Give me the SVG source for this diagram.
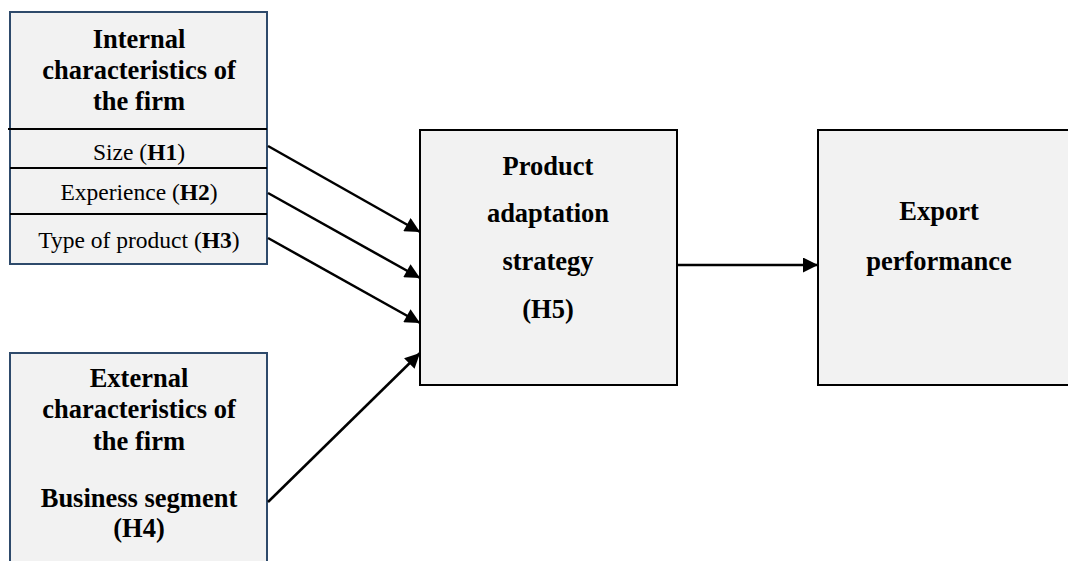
<svg xmlns="http://www.w3.org/2000/svg" width="1068" height="561" viewBox="0 0 1068 561">
  <style>
    .box { fill: #f2f2f2; stroke: #000; stroke-width: 2; }
    .navy { fill: #f2f2f2; stroke: #2e4a6b; stroke-width: 2; }
    .div { stroke: #000; stroke-width: 2; }
    .t { font-family: "Liberation Serif", "Times New Roman", serif; fill: #000; text-anchor: middle; }
    .b { font-weight: bold; }
    .hd { font-size: 26.5px; font-weight: bold; }
    .row { font-size: 23.5px; }
    .edge { stroke: #000; stroke-width: 2.5; fill: none; marker-end: url(#arrow); }
  </style>
  <defs>
    <marker id="arrow" viewBox="0 0 10 10" refX="10" refY="5" markerWidth="7" markerHeight="6" markerUnits="strokeWidth" orient="auto">
      <path d="M0,0 L10,5 L0,10 Z" fill="#000"/>
    </marker>
  </defs>

  <rect width="1068" height="561" fill="#fff"/>

  <!-- Internal characteristics with three hypothesis rows -->
  <g id="internal">
    <rect class="navy" x="10" y="12" width="257" height="252"/>
    <line class="div" x1="8" y1="129" x2="267" y2="129"/>
    <line class="div" x1="10" y1="168" x2="267" y2="168"/>
    <line class="div" x1="10" y1="214" x2="267" y2="214"/>
    <text class="t hd" x="139" y="48">Internal</text>
    <text class="t hd" x="139" y="79">characteristics of</text>
    <text class="t hd" x="139" y="110">the firm</text>
    <text class="t row" x="139" y="160">Size (<tspan class="b">H1</tspan>)</text>
    <text class="t row" x="139" y="200">Experience (<tspan class="b">H2</tspan>)</text>
    <text class="t row" x="139" y="248">Type of product (<tspan class="b">H3</tspan>)</text>
  </g>

  <!-- External characteristics, runs past the bottom edge -->
  <g id="external">
    <rect class="navy" x="10" y="353" width="257" height="220"/>
    <text class="t hd" x="139" y="387">External</text>
    <text class="t hd" x="139" y="418">characteristics of</text>
    <text class="t hd" x="139" y="450">the firm</text>
    <text class="t hd" x="139" y="507">Business segment</text>
    <text class="t hd" x="139" y="537">(H4)</text>
  </g>

  <g id="product">
    <rect class="box" x="420" y="130" width="257" height="255"/>
    <text class="t hd" x="548" y="175">Product</text>
    <text class="t hd" x="548" y="222">adaptation</text>
    <text class="t hd" x="548" y="270">strategy</text>
    <text class="t hd" x="548" y="318">(H5)</text>
  </g>

  <!-- Export performance, runs past the right edge -->
  <g id="export">
    <rect class="box" x="818" y="130" width="260" height="255"/>
    <text class="t hd" x="939" y="220">Export</text>
    <text class="t hd" x="939" y="270">performance</text>
  </g>

  <g id="connectors">
    <line class="edge" x1="268" y1="146" x2="420" y2="232"/>
    <line class="edge" x1="268" y1="193" x2="420" y2="278"/>
    <line class="edge" x1="268" y1="238" x2="420" y2="323"/>
    <line class="edge" x1="268" y1="502" x2="420" y2="353"/>
    <line class="edge" x1="677" y1="265" x2="818" y2="265"/>
  </g>
</svg>
